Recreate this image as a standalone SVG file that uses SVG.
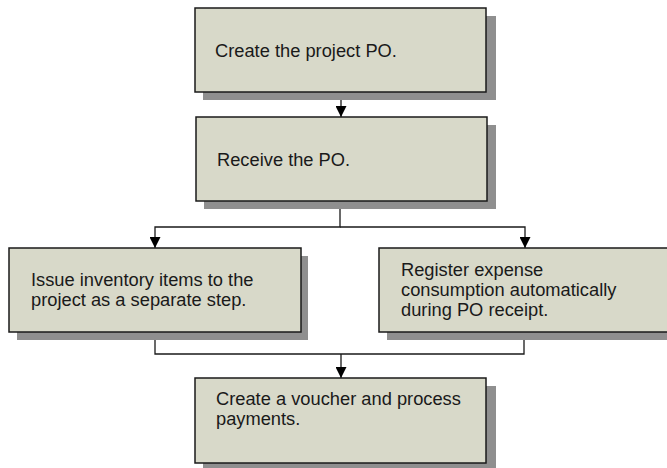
<svg xmlns="http://www.w3.org/2000/svg" width="667" height="468" viewBox="0 0 667 468">
<style>
.shadow{fill:#8f8f8f;stroke:none}
.box{fill:#d8d9c9;stroke:#1a1a1a;stroke-width:1.5}
.t{font-family:"Liberation Sans",Arial,sans-serif;font-size:18.3px;fill:#1a1a1a}
.c{fill:none;stroke:#1a1a1a;stroke-width:1.3}
</style>
<defs>
<marker id="ah" viewBox="0 0 10 10" refX="10" refY="5" markerWidth="11" markerHeight="11" markerUnits="userSpaceOnUse" orient="auto">
<path d="M0,0 L10,5 L0,10 Z" fill="#000"/>
</marker>
</defs>
<rect width="667" height="468" fill="#fff"/>
<g id="connectors">
<path class="c" d="M341,92 V117" marker-end="url(#ah)"/>
<path class="c" d="M340,201 V227 H155 V248" marker-end="url(#ah)"/>
<path class="c" d="M340,227 H525 V248" marker-end="url(#ah)"/>
<path class="c" d="M155,332 V354 H524 V332"/>
<path class="c" d="M341,354 V378" marker-end="url(#ah)"/>
</g>
<g id="n1">
<rect class="shadow" x="203" y="16" width="293" height="84"/>
<rect class="box" x="195" y="8" width="291" height="84"/>
<text class="t" x="215" y="57">Create the project PO.</text>
</g>
<g id="n2">
<rect class="shadow" x="204" y="125" width="292" height="84"/>
<rect class="box" x="196" y="117" width="291" height="84"/>
<text class="t" x="217" y="166">Receive the PO.</text>
</g>
<g id="n3">
<rect class="shadow" x="17" y="256" width="291" height="84"/>
<rect class="box" x="9" y="248" width="292" height="84"/>
<text class="t" x="31" y="286">Issue inventory items to the</text>
<text class="t" x="31" y="306">project as a separate step.</text>
</g>
<g id="n4">
<rect class="shadow" x="387" y="256" width="292" height="84"/>
<rect class="box" x="379" y="248" width="300" height="84"/>
<text class="t" x="401" y="276">Register expense</text>
<text class="t" x="401" y="296">consumption automatically</text>
<text class="t" x="401" y="316">during PO receipt.</text>
</g>
<g id="n5">
<rect class="shadow" x="203" y="386" width="293" height="84"/>
<rect class="box" x="195" y="378" width="291" height="85"/>
<text class="t" x="216" y="405">Create a voucher and process</text>
<text class="t" x="216" y="425">payments.</text>
</g>
</svg>
